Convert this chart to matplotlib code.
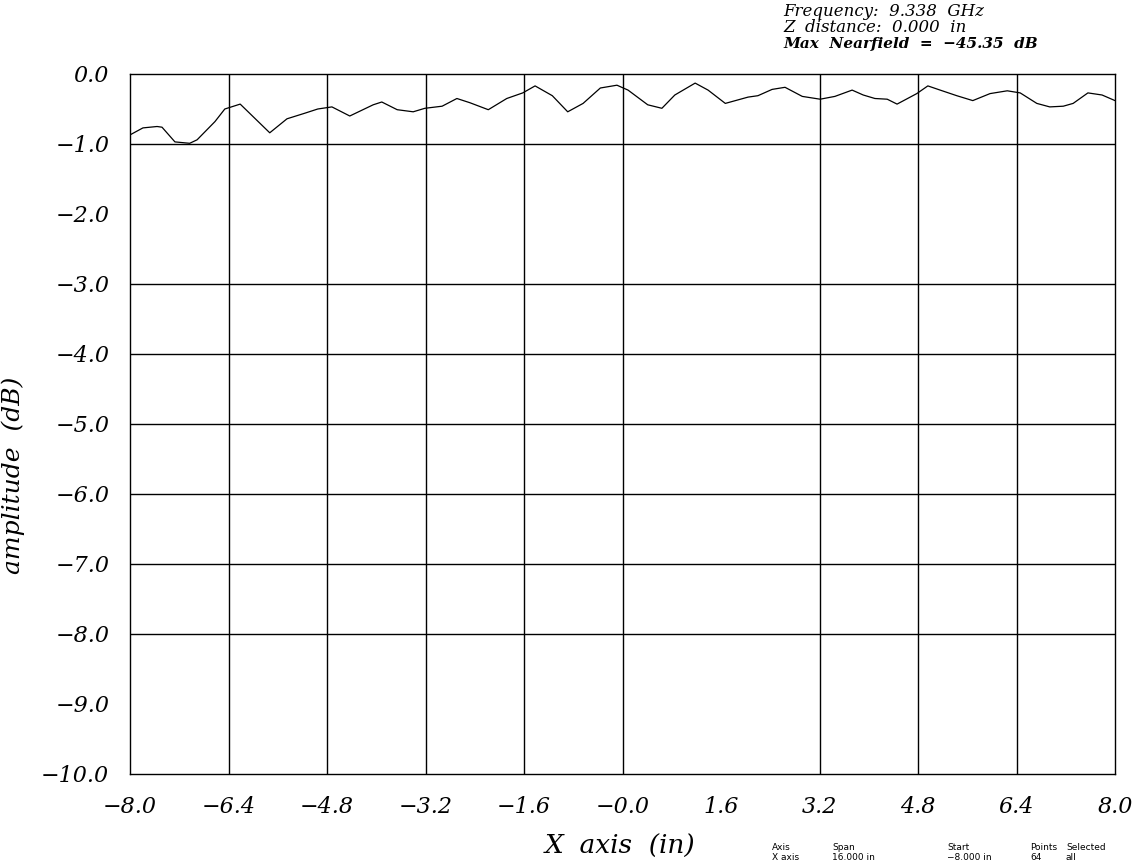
import matplotlib
matplotlib.use("Agg")
import matplotlib.pyplot as plt

# === DATA ===

x_in = [-8.00, -7.79, -7.56, -7.48, -7.27, -7.03, -6.91, -6.62, -6.46, -6.21,
        -5.73, -5.45, -5.16, -4.95, -4.72, -4.43, -4.05, -3.91, -3.66, -3.40,
        -3.21, -2.93, -2.69, -2.48, -2.18, -1.88, -1.62, -1.42, -1.14, -0.89,
        -0.64, -0.36, -0.09, 0.09, 0.41, 0.64, 0.85, 1.18, 1.39, 1.67,
        2.04, 2.20, 2.43, 2.64, 2.92, 3.21, 3.45, 3.73, 3.91, 4.10,
        4.30, 4.46, 4.78, 4.96, 5.16, 5.43, 5.69, 5.97, 6.25, 6.46,
        6.73, 6.94, 7.16, 7.32, 7.56, 7.79, 8.00]
amp_db = [-0.87, -0.77, -0.75, -0.76, -0.97, -0.99, -0.94, -0.68, -0.50, -0.43,
          -0.84, -0.64, -0.56, -0.50, -0.47, -0.60, -0.44, -0.40, -0.51, -0.54,
          -0.49, -0.46, -0.35, -0.41, -0.51, -0.35, -0.27, -0.17, -0.31, -0.54,
          -0.42, -0.20, -0.16, -0.23, -0.44, -0.49, -0.30, -0.13, -0.23, -0.42,
          -0.33, -0.31, -0.22, -0.19, -0.32, -0.36, -0.32, -0.23, -0.30, -0.35,
          -0.36, -0.43, -0.28, -0.17, -0.23, -0.31, -0.38, -0.28, -0.24, -0.27,
          -0.42, -0.47, -0.46, -0.42, -0.27, -0.30, -0.38]

x_ticks = [-8.0, -6.4, -4.8, -3.2, -1.6, 0.0, 1.6, 3.2, 4.8, 6.4, 8.0]
x_tick_labels = ["\u22128.0", "\u22126.4", "\u22124.8", "\u22123.2", "\u22121.6",
                 "\u22120.0", "1.6", "3.2", "4.8", "6.4", "8.0"]
y_ticks = [0.0, -1.0, -2.0, -3.0, -4.0, -5.0, -6.0, -7.0, -8.0, -9.0, -10.0]
y_tick_labels = ["0.0", "\u22121.0", "\u22122.0", "\u22123.0", "\u22124.0", "\u22125.0",
                 "\u22126.0", "\u22127.0", "\u22128.0", "\u22129.0", "\u221210.0"]

# the instrument plot skips some grid lines
x_grid = [-6.4, -4.8, -3.2, -1.6, 0.0, 3.2, 4.8, 6.4]
y_grid = [-1.0, -3.0, -4.0, -5.0, -6.0, -7.0, -8.0]

header_lines = ["Frequency:  9.338  GHz", "Z  distance:  0.000  in"]
max_line = "Max  Nearfield  =  \u221245.35  dB"

footer_cols = [("Axis", "X axis"), ("Span", "16.000 in"), ("Start", "\u22128.000 in"),
               ("Points", "64"), ("Selected", "all")]

# === FIGURE ===

fig = plt.figure(figsize=(11.33, 8.65), dpi=100)
ax = fig.add_axes([130 / 1133, 91 / 865, 985 / 1133, 700 / 865])

for xv in x_grid:
    ax.axvline(xv, color="black", lw=1.0)
for yv in y_grid:
    ax.axhline(yv, color="black", lw=1.0)

ax.plot(x_in, amp_db, color="black", lw=0.9)

ax.set_xlim(-8, 8)
ax.set_ylim(-10, 0)
for sp in ax.spines.values():
    sp.set_linewidth(1.0)

tick_font = dict(family="DejaVu Serif", style="italic", size=16)
ax.set_xticks(x_ticks)
ax.set_xticklabels(x_tick_labels, fontdict=tick_font)
ax.set_yticks(y_ticks)
ax.set_yticklabels(y_tick_labels, fontdict=tick_font)
ax.tick_params(axis="both", length=0)
ax.tick_params(axis="x", pad=16)
ax.tick_params(axis="y", pad=15)

ax.set_xlabel("X  axis  (in)", family="DejaVu Serif", style="italic", size=19)
ax.xaxis.set_label_coords((620 - 130) / 985, -(846 - 774) / 700)
ax.xaxis.label.set_va("center")
ax.set_ylabel("amplitude  (dB)", family="DejaVu Serif", style="italic", size=18)
ax.yaxis.set_label_coords(-(130 - 25) / 985, (774 - 475) / 700)
ax.yaxis.label.set_ha("center")

# header text top right
fig.text(783 / 1133, 1 - 12 / 865, header_lines[0], family="DejaVu Serif",
         style="italic", size=12, va="center", ha="left")
fig.text(783 / 1133, 1 - 28 / 865, header_lines[1], family="DejaVu Serif",
         style="italic", size=12, va="center", ha="left")
fig.text(783 / 1133, 1 - 44 / 865, max_line, family="DejaVu Serif",
         style="italic", weight="bold", size=11, va="center", ha="left")

# small footer summary
footer_x = [772, 832, 947, 1030, 1066]
for (head, val), fx in zip(footer_cols, footer_x):
    fig.text(fx / 1133, 1 - 848 / 865, head, family="DejaVu Sans", size=6.5,
             va="center", ha="left")
    fig.text(fx / 1133, 1 - 858 / 865, val, family="DejaVu Sans", size=6.5,
             va="center", ha="left")

fig.savefig("out.png", dpi=100)
